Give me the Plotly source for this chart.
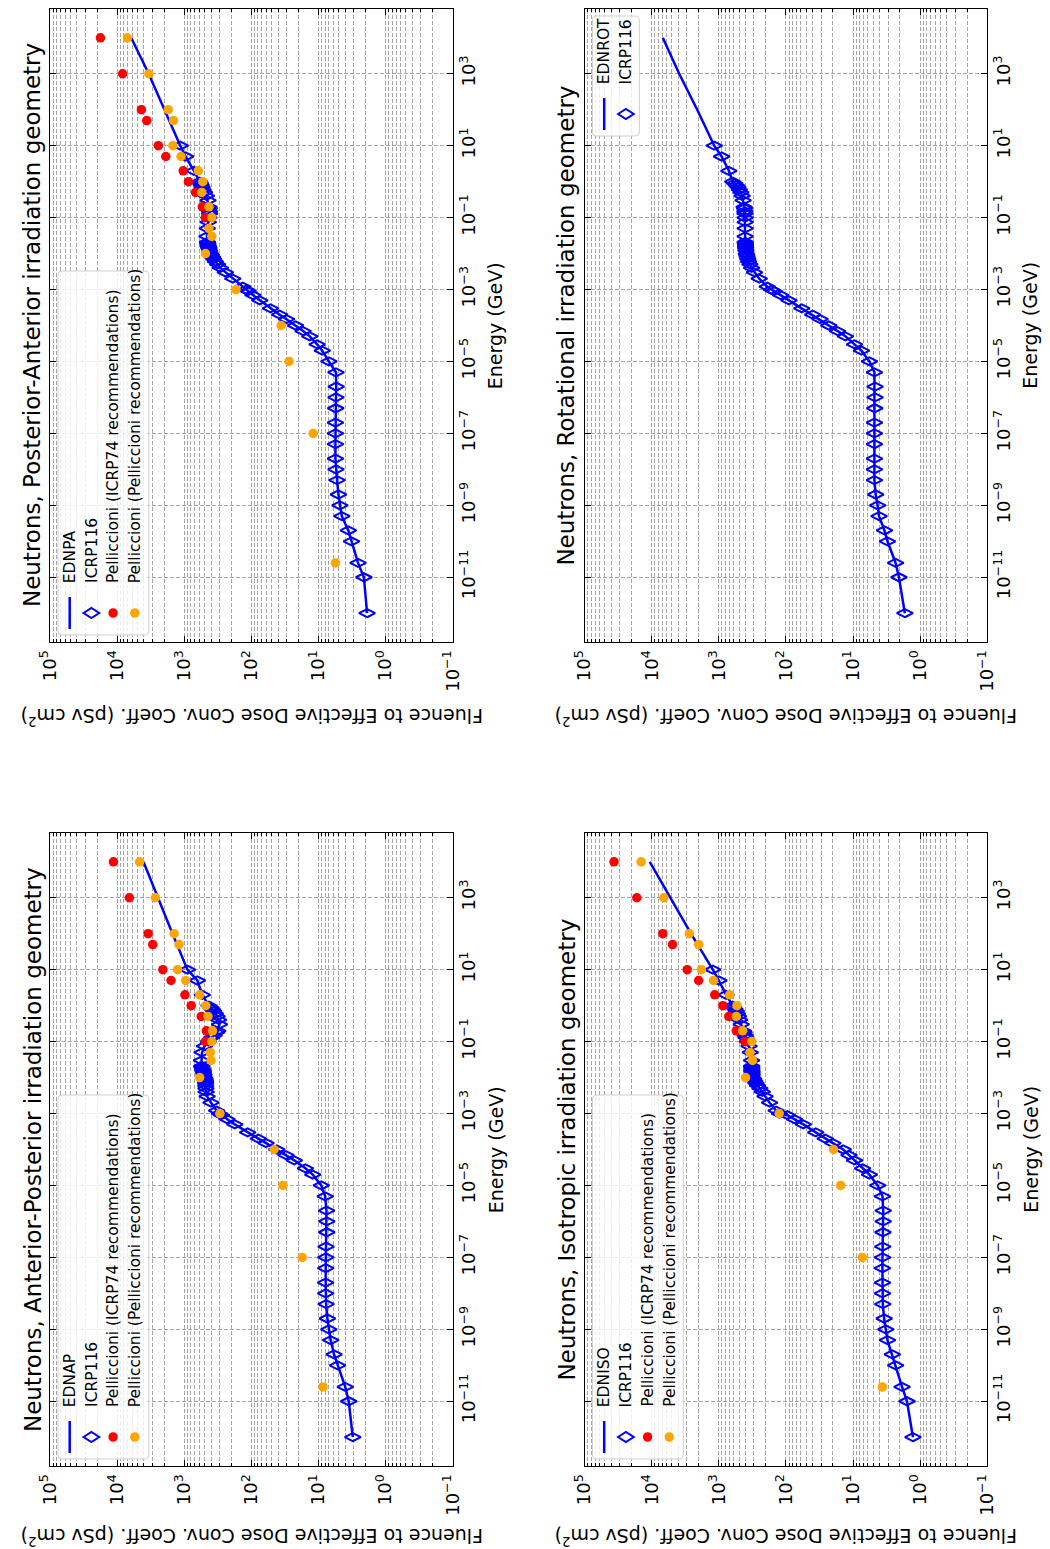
import plotly.graph_objects as go

W, H = 1050, 1549

# ---------------- data (energies in GeV, coefficients in pSv cm^2) ----------------
energy_icrp116 = [1e-12, 1e-11, 2.5e-11, 1e-10, 2e-10, 5e-10, 1e-9, 2e-9, 5e-9, 1e-8, 2e-8, 5e-8,
                  1e-7, 2e-7, 5e-7, 1e-6, 2e-6, 5e-6, 1e-5, 2e-5, 3e-5, 5e-5, 7e-5, 1e-4, 1.5e-4,
                  2e-4, 3e-4, 5e-4, 7e-4, 9e-4, 1e-3, 1.2e-3, 2e-3, 3e-3, 4e-3, 5e-3, 6e-3, 7e-3,
                  8e-3, 9e-3, 1e-2, 1.2e-2, 1.4e-2, 1.5e-2, 1.6e-2, 1.8e-2, 2e-2, 2.1e-2, 3e-2,
                  5e-2, 7.5e-2, 0.1, 0.13, 0.15, 0.18, 0.2, 0.3, 0.4, 0.5, 0.6, 0.7, 0.8, 0.9,
                  1, 2, 5, 10]

icrp116_ap = [3.09, 3.55, 4.00, 5.20, 5.87, 6.59, 7.03, 7.39, 7.71, 7.82, 7.84, 7.82,
              7.79, 7.73, 7.54, 7.54, 7.61, 7.97, 9.11, 12.2, 15.7, 23.0, 30.6, 41.9, 60.6,
              78.8, 114, 177, 232, 279, 301, 330, 400, 458, 474, 477, 480, 482,
              483, 490, 498, 510, 520, 525, 530, 540, 548, 550, 555,
              545, 500, 440, 390, 360, 330, 318, 300, 310, 325, 345, 365, 385, 405,
              430, 540, 640, 900]

icrp116_pa = [1.89, 2.11, 2.58, 3.23, 3.6, 4.5, 4.8, 5.05, 5.3, 5.5, 5.6, 5.6,
              5.6, 5.6, 5.55, 5.5, 5.45, 5.5, 7.0, 8.8, 10.5, 13.5, 17, 22, 30,
              38, 52, 75, 95, 112, 120, 135, 190, 245, 290, 320, 345, 365,
              380, 395, 405, 420, 430, 435, 440, 445, 450, 452, 460,
              455, 440, 430, 420, 420, 425, 430, 445, 470, 500, 530, 545, 560, 575,
              590, 720, 960, 1150]

icrp116_rot = [1.69, 2.07, 2.32, 3.07, 3.4, 4.1, 4.3, 4.6, 4.8, 4.8, 4.8, 4.8,
               4.8, 4.8, 4.75, 4.7, 4.7, 4.8, 5.7, 7.5, 9.5, 13, 17, 23, 31,
               40, 58, 90, 120, 150, 165, 190, 250, 295, 325, 345, 360, 370,
               378, 384, 390, 395, 398, 400, 400, 402, 404, 404, 405,
               405, 405, 405, 408, 410, 415, 420, 435, 450, 470, 495, 520, 550, 580,
               620, 710, 910, 1170]

icrp116_iso = [1.28, 1.57, 1.86, 2.32, 2.6, 3.07, 3.25, 3.44, 3.6, 3.64, 3.65, 3.65,
               3.64, 3.62, 3.58, 3.55, 3.55, 3.64, 4.3, 5.7, 7.2, 9.5, 11.5, 14, 20,
               26, 36, 55, 75, 95, 125, 140, 175, 205, 225, 245, 265, 280,
               292, 302, 312, 318, 320, 322, 323, 323, 324, 324, 325,
               340, 355, 375, 395, 405, 420, 430, 465, 490, 510, 530, 550, 575, 600,
               625, 780, 1000, 1230]

# FLUKA EDN* curves continue above 10 GeV
energy_edn_ext = [100, 1000, 10000]
edn_ext_ap = [1500, 2460, 4070]
edn_ext_pa = [2000, 3400, 6200]
edn_ext_rot = [2100, 3900, 6840]
edn_ext_iso = [2600, 5250, 10700]

energy_pell_icrp74 = [0.1, 0.2, 0.5, 1, 2, 5, 10, 50, 100, 1000, 10000]
pell_icrp74_ap = [485, 470, 560, 790, 980, 1580, 2090, 2960, 3460, 6600, 11400]
pell_icrp74_pa = [485, 540, 680, 870, 1040, 1890, 2440, 3630, 4370, 8300, 17800]
pell_icrp74_iso = [410, 550, 710, 870, 1150, 2000, 2960, 4900, 6840, 16700, 36500]

energy_pell = [2.5e-11, 1e-7, 1e-5, 1e-4, 1e-3, 1e-2, 3e-2, 5e-2, 0.1, 0.2, 0.5, 1, 2, 5,
               10, 50, 100, 1000, 10000]
pell_ap = [8.6, 17.5, 34, 46, 295, 590, 400, 410, 390, 380, 445, 480, 590, 955,
           1260, 1200, 1420, 2700, 4630]
pell_pa = [5.6, 12, 27.5, 36, 170, 485, 390, 430, 390, 430, 550, 530, 620, 1120,
           1480, 1450, 1740, 3390, 7070]
pell_iso = [3.66, 7.25, 15.3, 19.5, 126, 400, 315, 343, 323, 442, 550, 537, 690, 1200,
            1820, 2000, 2750, 6600, 14400]

dose_tick_exp = [-1, 0, 1, 2, 3, 4, 5]
energy_tick_exp = [-11, -9, -7, -5, -3, -1, 1, 3]

label_energy = "Energy (GeV)"
label_dose = "Fluence to Effective Dose Conv. Coeff. (pSv cm<sup>2</sup>)"
legend_icrp116 = "ICRP116"
legend_p74 = "Pelliccioni (ICRP74 recommendations)"
legend_pp = "Pelliccioni (Pelliccioni recommendations)"

# ---------------- styling ----------------
FONT = "DejaVu Sans"
BLUE = "#0000ff"
RED = "#ff0000"
ORANGE = "#ffa500"
GRID = "#a6a6a6"
TICK_SIZE = 18
LABEL_SIZE = 19
TITLE_SIZE = 23
LEGEND_SIZE = 15.5


def sup(e):
    s = str(e).replace("-", "\u2212")
    return "10<sup>" + s + "</sup>"


def px(x):
    return x / W


def py(y):
    return 1 - y / H


panels = [
    dict(key="PA", edn="EDNPA", title="Neutrons, Posterior-Anterior irradiation geometry",
         col=0, row=0, icrp=icrp116_pa, ext=edn_ext_pa, p74=pell_icrp74_pa, pp=pell_pa),
    dict(key="ROT", edn="EDNROT", title="Neutrons, Rotational irradiation geometry",
         col=1, row=0, icrp=icrp116_rot, ext=edn_ext_rot, p74=None, pp=None),
    dict(key="AP", edn="EDNAP", title="Neutrons, Anterior-Posterior irradiation geometry",
         col=0, row=1, icrp=icrp116_ap, ext=edn_ext_ap, p74=pell_icrp74_ap, pp=pell_ap),
    dict(key="ISO", edn="EDNISO", title="Neutrons, Isotropic irradiation geometry",
         col=1, row=1, icrp=icrp116_iso, ext=edn_ext_iso, p74=pell_icrp74_iso, pp=pell_iso),
]

COLS = [(37, 449), (584, 996)]
ROWS = [(9, 642), (833, 1466)]
TITLE_X = [19, 565]
ELABEL_X = [493, 1040]
DLABEL_Y = [717, 1537]

dose_ticks = [10.0 ** e for e in dose_tick_exp]
dose_text = [sup(e) for e in dose_tick_exp]
dose_minor = [k * 10.0 ** e for e in range(-1, 5) for k in range(2, 10)]
energy_ticks = [10.0 ** e for e in energy_tick_exp]
energy_text = [sup(e) for e in energy_tick_exp]

fig = go.Figure()
shapes = []
annotations = []

for i, p in enumerate(panels):
    n = i + 1
    xa = "x" if n == 1 else f"x{n}"
    ya = "y" if n == 1 else f"y{n}"
    x0, x1 = COLS[p["col"]]
    y0, y1 = ROWS[p["row"]]

    fig.add_trace(go.Scatter(
        x=p["icrp"] + p["ext"], y=energy_icrp116 + energy_edn_ext, mode="lines",
        line=dict(color=BLUE, width=2.5), xaxis=xa, yaxis=ya, name=p["edn"]))
    fig.add_trace(go.Scatter(
        x=p["icrp"], y=energy_icrp116, mode="markers",
        marker=dict(symbol="diamond-wide-open", size=11.5, color=BLUE,
                    line=dict(color=BLUE, width=2)),
        xaxis=xa, yaxis=ya, name=legend_icrp116))
    if p["p74"] is not None:
        fig.add_trace(go.Scatter(
            x=p["p74"], y=energy_pell_icrp74, mode="markers",
            marker=dict(symbol="circle", size=9.5, color=RED, line=dict(width=0)),
            xaxis=xa, yaxis=ya, name=legend_p74))
        fig.add_trace(go.Scatter(
            x=p["pp"], y=energy_pell, mode="markers",
            marker=dict(symbol="circle", size=9.5, color=ORANGE, line=dict(width=0)),
            xaxis=xa, yaxis=ya, name=legend_pp))

    axis_common = dict(
        type="log", showline=True, linecolor="black", linewidth=1.3, mirror="allticks",
        ticks="inside", ticklen=6, tickwidth=1, tickcolor="black",
        showgrid=True, gridcolor=GRID, gridwidth=1, griddash="4px,2px", zeroline=False,
        tickangle=-90, tickfont=dict(family=FONT, size=TICK_SIZE, color="black"),
        tickmode="array",
    )
    fig.update_layout(**{
        ("xaxis" if n == 1 else f"xaxis{n}"): dict(
            axis_common, range=[5, -1], domain=[px(x0), px(x1)], anchor=ya,
            tickvals=dose_ticks, ticktext=dose_text,
            minor=dict(tickmode="array", tickvals=dose_minor, ticks="inside", ticklen=3,
                       tickcolor="black", showgrid=True, gridcolor=GRID, gridwidth=1,
                       griddash="4px,2px")),
        ("yaxis" if n == 1 else f"yaxis{n}"): dict(
            axis_common, range=[-12.8, 4.8], domain=[py(y1), py(y0)], anchor=xa,
            side="right", tickvals=energy_ticks, ticktext=energy_text),
    })

    cx = (x0 + x1) / 2
    cy = (y0 + y1) / 2
    annotations.append(dict(text=p["title"], x=px(TITLE_X[p["col"]]), y=py(cy),
                            xref="paper", yref="paper", showarrow=False, textangle=-90,
                            xanchor="center", yanchor="middle",
                            font=dict(family=FONT, size=TITLE_SIZE, color="black")))
    annotations.append(dict(text=label_energy, x=px(ELABEL_X[p["col"]]), y=py(cy),
                            xref="paper", yref="paper", showarrow=False, textangle=-90,
                            xanchor="center", yanchor="middle",
                            font=dict(family=FONT, size=LABEL_SIZE, color="black")))
    annotations.append(dict(text=label_dose, x=px(cx), y=py(DLABEL_Y[p["row"]]),
                            xref="paper", yref="paper", showarrow=False, textangle=180,
                            xanchor="center", yanchor="middle",
                            font=dict(family=FONT, size=LABEL_SIZE, color="black")))

    # ----- hand-drawn rotated legend -----
    if p["p74"] is not None:
        entries = [(p["edn"], "line"), (legend_icrp116, "diamond"),
                   (legend_p74, "red"), (legend_pp, "orange")]
        lx0 = x0 + 8
        lx1 = lx0 + 93
        ly1 = y1 - 7
        ly0 = y1 - 371
    else:
        entries = [(p["edn"], "line"), (legend_icrp116, "diamond")]
        lx0 = x0 + 8
        lx1 = lx0 + 48
        ly0 = y0 + 7
        ly1 = y0 + 127
    r = 4
    path = (f"M {px(lx0 + r)},{py(ly0)} L {px(lx1 - r)},{py(ly0)} "
            f"Q {px(lx1)},{py(ly0)} {px(lx1)},{py(ly0 + r)} "
            f"L {px(lx1)},{py(ly1 - r)} Q {px(lx1)},{py(ly1)} {px(lx1 - r)},{py(ly1)} "
            f"L {px(lx0 + r)},{py(ly1)} Q {px(lx0)},{py(ly1)} {px(lx0)},{py(ly1 - r)} "
            f"L {px(lx0)},{py(ly0 + r)} Q {px(lx0)},{py(ly0)} {px(lx0 + r)},{py(ly0)} Z")
    shapes.append(dict(type="path", path=path, xref="paper", yref="paper",
                       line=dict(color="#d0d0d0", width=1),
                       fillcolor="rgba(255,255,255,0.8)", layer="above"))
    sym_y = ly1 - 22
    txt_y = ly1 - 50
    for k, (txt, kind) in enumerate(entries):
        ex = lx0 + 12 + k * 22.2
        if kind == "line":
            shapes.append(dict(type="line", xref="paper", yref="paper",
                               x0=px(ex), x1=px(ex), y0=py(sym_y - 16), y1=py(sym_y + 16),
                               line=dict(color=BLUE, width=2.5), layer="above"))
        elif kind == "diamond":
            dpath = (f"M {px(ex - 8)},{py(sym_y)} L {px(ex)},{py(sym_y - 5)} "
                     f"L {px(ex + 8)},{py(sym_y)} L {px(ex)},{py(sym_y + 5)} Z")
            shapes.append(dict(type="path", path=dpath, xref="paper", yref="paper",
                               line=dict(color=BLUE, width=2), layer="above"))
        else:
            col = RED if kind == "red" else ORANGE
            shapes.append(dict(type="circle", xref="paper", yref="paper",
                               x0=px(ex - 4.8), x1=px(ex + 4.8),
                               y0=py(sym_y + 4.8), y1=py(sym_y - 4.8),
                               fillcolor=col, line=dict(width=0), layer="above"))
        annotations.append(dict(text=txt, x=px(ex), y=py(txt_y), xref="paper", yref="paper",
                                showarrow=False, textangle=-90, xanchor="center",
                                yanchor="bottom",
                                font=dict(family=FONT, size=LEGEND_SIZE, color="black")))

fig.update_layout(
    width=W, height=H, margin=dict(l=0, r=0, t=0, b=0),
    paper_bgcolor="white", plot_bgcolor="white", showlegend=False,
    shapes=shapes, annotations=annotations,
    font=dict(family=FONT, color="black"),
)

fig.write_html("out.html")
